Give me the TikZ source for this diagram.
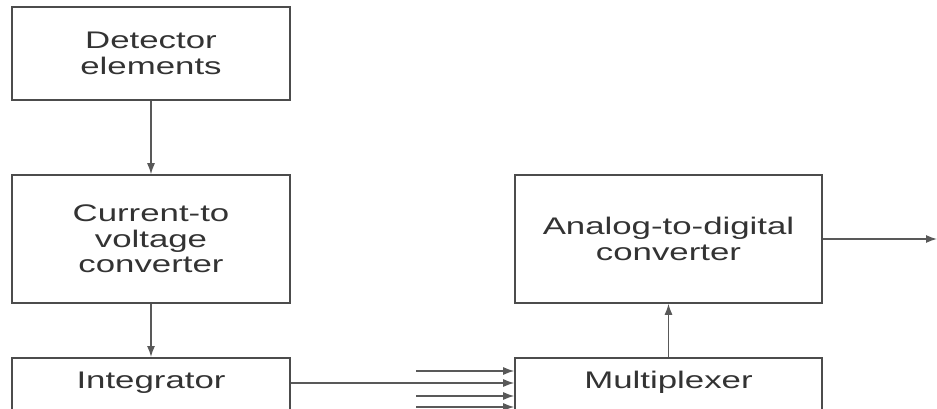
\documentclass[tikz,border=0pt]{standalone}
\usepackage{fontspec}
\setmainfont{Liberation Sans}[FakeStretch=1.45]
\usetikzlibrary{arrows.meta}

\begin{document}
\begin{tikzpicture}[
  x=1pt, y=-1pt,
  blkbox/.style = {draw=black!70, line width=1.6pt, align=center,
                   text=black!80, inner sep=0pt,
                   font=\fontsize{24}{25.5}\selectfont},
  cutbox/.style = {blkbox, anchor=north, text height=17pt,
                   text depth=70pt, inner ysep=14pt},
  sigarr/.style = {-{Latex[length=11pt,width=8pt]}, line width=1.3pt,
                   black!65},
]
\useasboundingbox (0,0) rectangle (937,409);
\clip (0,0) rectangle (937,409);

\node[blkbox, minimum width=278pt, minimum height=93pt]
  (det) at (151,53.5) {Detector\\elements};
\node[blkbox, minimum width=278pt, minimum height=128pt]
  (cur) at (151,239) {Current-to\\voltage\\converter};
\node[cutbox, minimum width=278pt] (integ) at (151,357) {Integrator};
\node[blkbox, minimum width=307pt, minimum height=128pt]
  (adc) at (668.5,239) {Analog-to-digital\\converter};
\node[cutbox, minimum width=307pt] (mux) at (668.5,357) {Multiplexer};
\coordinate (out) at (937,239);

% Multiplexer inputs
\coordinate (in1) at ([yshift=-14pt]mux.north west);
\coordinate (in2) at ([yshift=-26pt]mux.north west);
\coordinate (in3) at ([yshift=-39pt]mux.north west);
\coordinate (in4) at ([yshift=-50pt]mux.north west);

\draw[sigarr] (det) -- (cur);
\draw[sigarr] (cur) -- (integ);
\draw[sigarr] (integ.north east |- in2) -- (in2);
\foreach \c in {in1,in3,in4}
  \draw[sigarr] ([xshift=-98pt]\c) -- (\c);
\draw[sigarr] (mux) -- (adc);
\draw[sigarr] (adc) -- (out);

\end{tikzpicture}
\end{document}
